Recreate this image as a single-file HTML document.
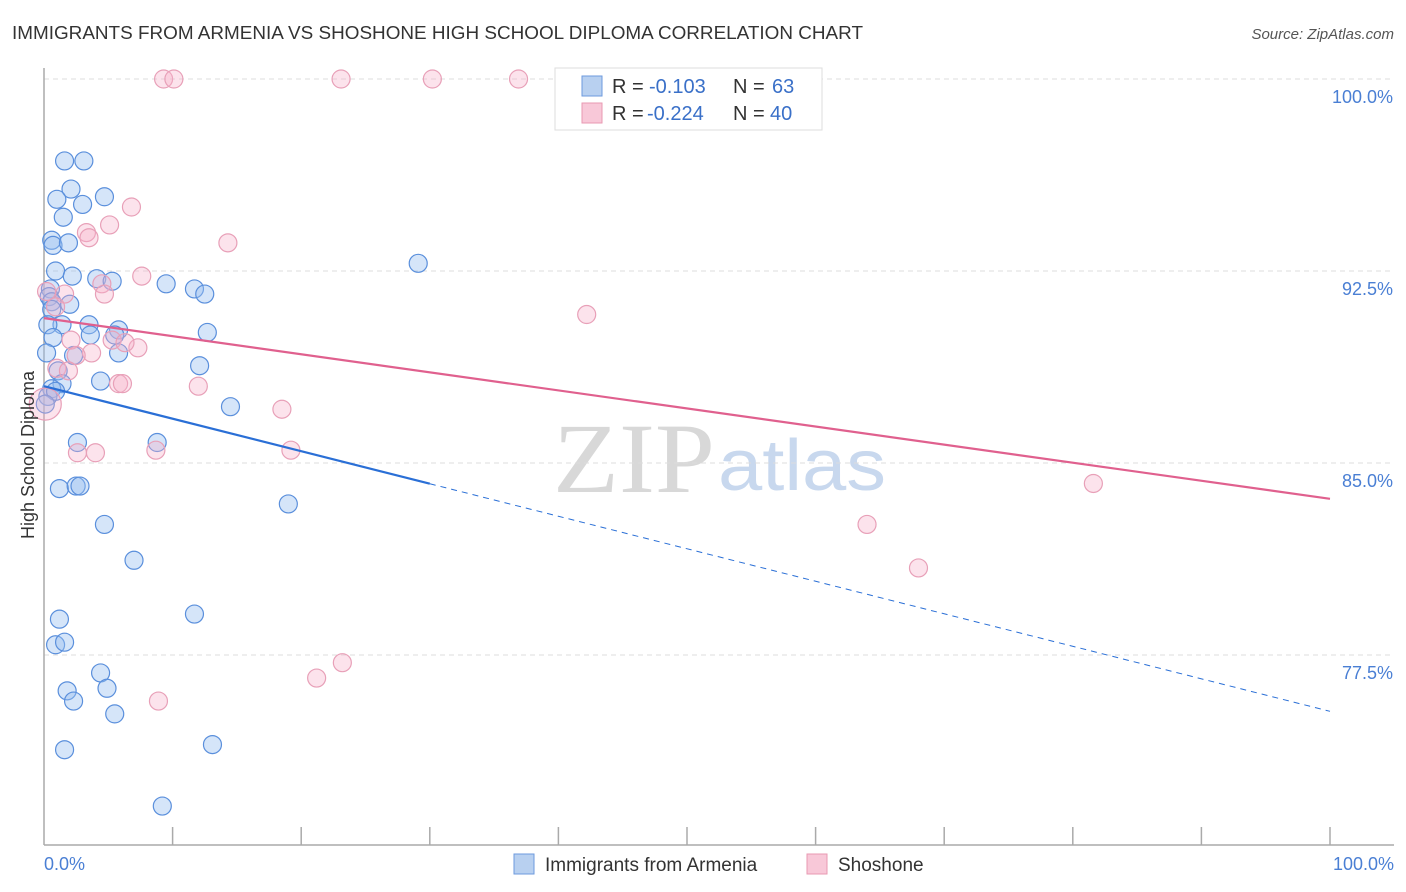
<!DOCTYPE html>
<html><head><meta charset="utf-8">
<style>
body{margin:0;background:#fff;font-family:"Liberation Sans",sans-serif;}
svg{display:block}
</style></head>
<body>
<svg id="chart" width="1406" height="892">
<text x="12" y="39" font-size="18" fill="#333" textLength="851" lengthAdjust="spacingAndGlyphs">IMMIGRANTS FROM ARMENIA VS SHOSHONE HIGH SCHOOL DIPLOMA CORRELATION CHART</text>
<text x="1394" y="39" font-size="15" fill="#555" text-anchor="end" font-style="italic">Source: ZipAtlas.com</text>
<text x="553" y="492" font-size="100" fill="#d8d8d8" font-family="Liberation Serif,serif" textLength="162" lengthAdjust="spacingAndGlyphs">ZIP</text>
<text x="718" y="490" font-size="72" fill="#c8d8ee" textLength="168" lengthAdjust="spacingAndGlyphs">atlas</text>
<g id="grid"></g>
<g id="axes"></g>
<g id="pts"></g>
<g id="trends"></g>
<text transform="translate(34,455) rotate(-90)" font-size="18" fill="#333" text-anchor="middle">High School Diploma</text>
<text x="44" y="870" font-size="18" fill="#4a7fd4">0.0%</text>
<text x="1394" y="870" font-size="18" fill="#4a7fd4" text-anchor="end">100.0%</text>
<g>
<rect x="555" y="68" width="267" height="62" fill="#fff" stroke="#ddd"/>
<rect x="582" y="76" width="20" height="20" fill="#b8d0f0" stroke="#6d9ade"/>
<rect x="582" y="103" width="20" height="20" fill="#f8c8d8" stroke="#e899b2"/>
<text x="612" y="93" font-size="20" fill="#333">R =</text><text x="649" y="93" font-size="20" fill="#3a70c8">-0.103</text>
<text x="733" y="93" font-size="20" fill="#333">N =</text><text x="772" y="93" font-size="20" fill="#3a70c8">63</text>
<text x="612" y="120" font-size="20" fill="#333">R =</text><text x="647" y="120" font-size="20" fill="#3a70c8">-0.224</text>
<text x="733" y="120" font-size="20" fill="#333">N =</text><text x="770" y="120" font-size="20" fill="#3a70c8">40</text>
</g>
<g>
<rect x="514" y="854" width="20" height="20" fill="#b8d0f0" stroke="#6d9ade"/>
<text x="545" y="871" font-size="19" fill="#333">Immigrants from Armenia</text>
<rect x="807" y="854" width="20" height="20" fill="#f8c8d8" stroke="#e899b2"/>
<text x="838" y="871" font-size="19" fill="#333">Shoshone</text>
</g>
</svg>
<script>
const yTicks=[100,92.5,85,77.5];
const yTickLabels=["100.0%","92.5%","85.0%","77.5%"];
const xTicks=[10,20,30,40,50,60,70,80,90,100];
const blueX=[1.6,3.1,2.1,1.0,4.7,3.0,1.5,0.6,0.7,1.9,0.9,2.2,4.1,5.3,9.5,11.7,12.5,29.1,0.5,0.4,0.6,2.0,0.6,1.4,3.5,5.8,0.3,0.7,3.6,5.5,12.7,0.2,2.3,5.8,12.1,1.1,4.4,1.4,0.6,0.3,0.9,14.5,2.6,8.8,1.2,2.5,2.8,4.7,19.0,7.0,1.2,11.7,0.9,1.6,4.4,1.8,2.3,4.9,5.5,1.6,13.1,9.2,0.1];
const blueY=[96.8,96.8,95.7,95.3,95.4,95.1,94.6,93.7,93.5,93.6,92.5,92.3,92.2,92.1,92.0,91.8,91.6,92.8,91.8,91.5,91.3,91.2,91.0,90.4,90.4,90.2,90.4,89.9,90.0,90.0,90.1,89.3,89.2,89.3,88.8,88.6,88.2,88.1,87.9,87.6,87.8,87.2,85.8,85.8,84.0,84.1,84.1,82.6,83.4,81.2,78.9,79.1,77.9,78.0,76.8,76.1,75.7,76.2,75.2,73.8,74.0,71.6,87.3];
const pinkX=[9.3,10.1,23.1,30.2,36.9,6.8,5.1,3.3,3.5,14.3,7.6,4.5,4.7,1.6,0.2,42.2,0.9,2.1,5.3,7.3,6.3,3.7,2.5,1.0,1.9,5.8,6.1,12.0,18.5,2.6,4.0,8.7,19.2,81.6,64.0,68.0,23.2,21.2,8.9,0.1];
const pinkY=[100,100,100,100,100,95.0,94.3,94.0,93.8,93.6,92.3,92.0,91.6,91.6,91.7,90.8,91.1,89.8,89.8,89.5,89.7,89.3,89.2,88.7,88.6,88.1,88.1,88.0,87.1,85.4,85.4,85.5,85.5,84.2,82.6,80.9,77.2,76.6,75.7,87.3];
const pinkSize=[9,9,9,9,9,9,9,9,9,9,9,9,9,9,9,9,9,9,9,9,9,9,9,9,9,9,9,9,9,9,9,9,9,9,9,9,9,9,9,16];
const blueTrend=[88.0,75.3];
const pinkTrend=[90.66,83.6];
const blueSolidEnd=30;

const X0=44,X1=1330,Y100=79,PXPER=25.6;
const sx=v=>X0+(X1-X0)*v/100;
const sy=v=>Y100+(100-v)*PXPER;
const NS="http://www.w3.org/2000/svg";
function mk(tag,attrs,parent){const e=document.createElementNS(NS,tag);for(const k in attrs)e.setAttribute(k,attrs[k]);parent.appendChild(e);return e;}
const grid=document.getElementById('grid'),axes=document.getElementById('axes'),pts=document.getElementById('pts'),tr=document.getElementById('trends');
yTicks.forEach((t,i)=>{
  const l=mk('line',{x1:X0,x2:1394,y1:sy(t),y2:sy(t),stroke:'#ddd','stroke-dasharray':'5,4'},grid);
  
  
  const tx=mk('text',{x:1393,y:sy(t)+24,'font-size':18,fill:'#4a7fd4','text-anchor':'end'},grid);
  tx.textContent=yTickLabels[i];
  
  
});
const ya=mk('line',{x1:X0,x2:X0,y1:68,y2:845,stroke:'#aaa','stroke-width':1.5},axes);


const xa=mk('line',{x1:X0,x2:1394,y1:845,y2:845,stroke:'#aaa','stroke-width':1.5},axes);


xTicks.forEach(t=>{
  const l=mk('line',{x1:sx(t),x2:sx(t),y1:827,y2:845,stroke:'#aaa','stroke-width':1.5},axes);
  
  
});
blueX.forEach((v,i)=>{
  const c=mk('circle',{cx:sx(v),cy:sy(blueY[i]),r:9,fill:'rgba(150,190,240,0.4)',stroke:'#5a8fdc','stroke-width':1.2},pts);
  
  
});
pinkX.forEach((v,i)=>{
  const c=mk('circle',{cx:sx(v),cy:sy(pinkY[i]),r:pinkSize[i],fill:'rgba(245,175,200,0.35)',stroke:'#e8a0b8','stroke-width':1.2},pts);
  
  
});
const bAt=x=>blueTrend[0]+(blueTrend[1]-blueTrend[0])*x/100;
const b1=mk('line',{x1:sx(0),y1:sy(bAt(0)),x2:sx(blueSolidEnd),y2:sy(bAt(blueSolidEnd)),stroke:'#2a6fd6','stroke-width':2.2},tr);


const b2=mk('line',{x1:sx(blueSolidEnd),y1:sy(bAt(blueSolidEnd)),x2:sx(100),y2:sy(bAt(100)),stroke:'#2a6fd6','stroke-width':1,'stroke-dasharray':'6,5'},tr);


const p1=mk('line',{x1:sx(0),y1:sy(pinkTrend[0]),x2:sx(100),y2:sy(pinkTrend[1]),stroke:'#e0608e','stroke-width':2.2},tr);


</script>
</body></html>
